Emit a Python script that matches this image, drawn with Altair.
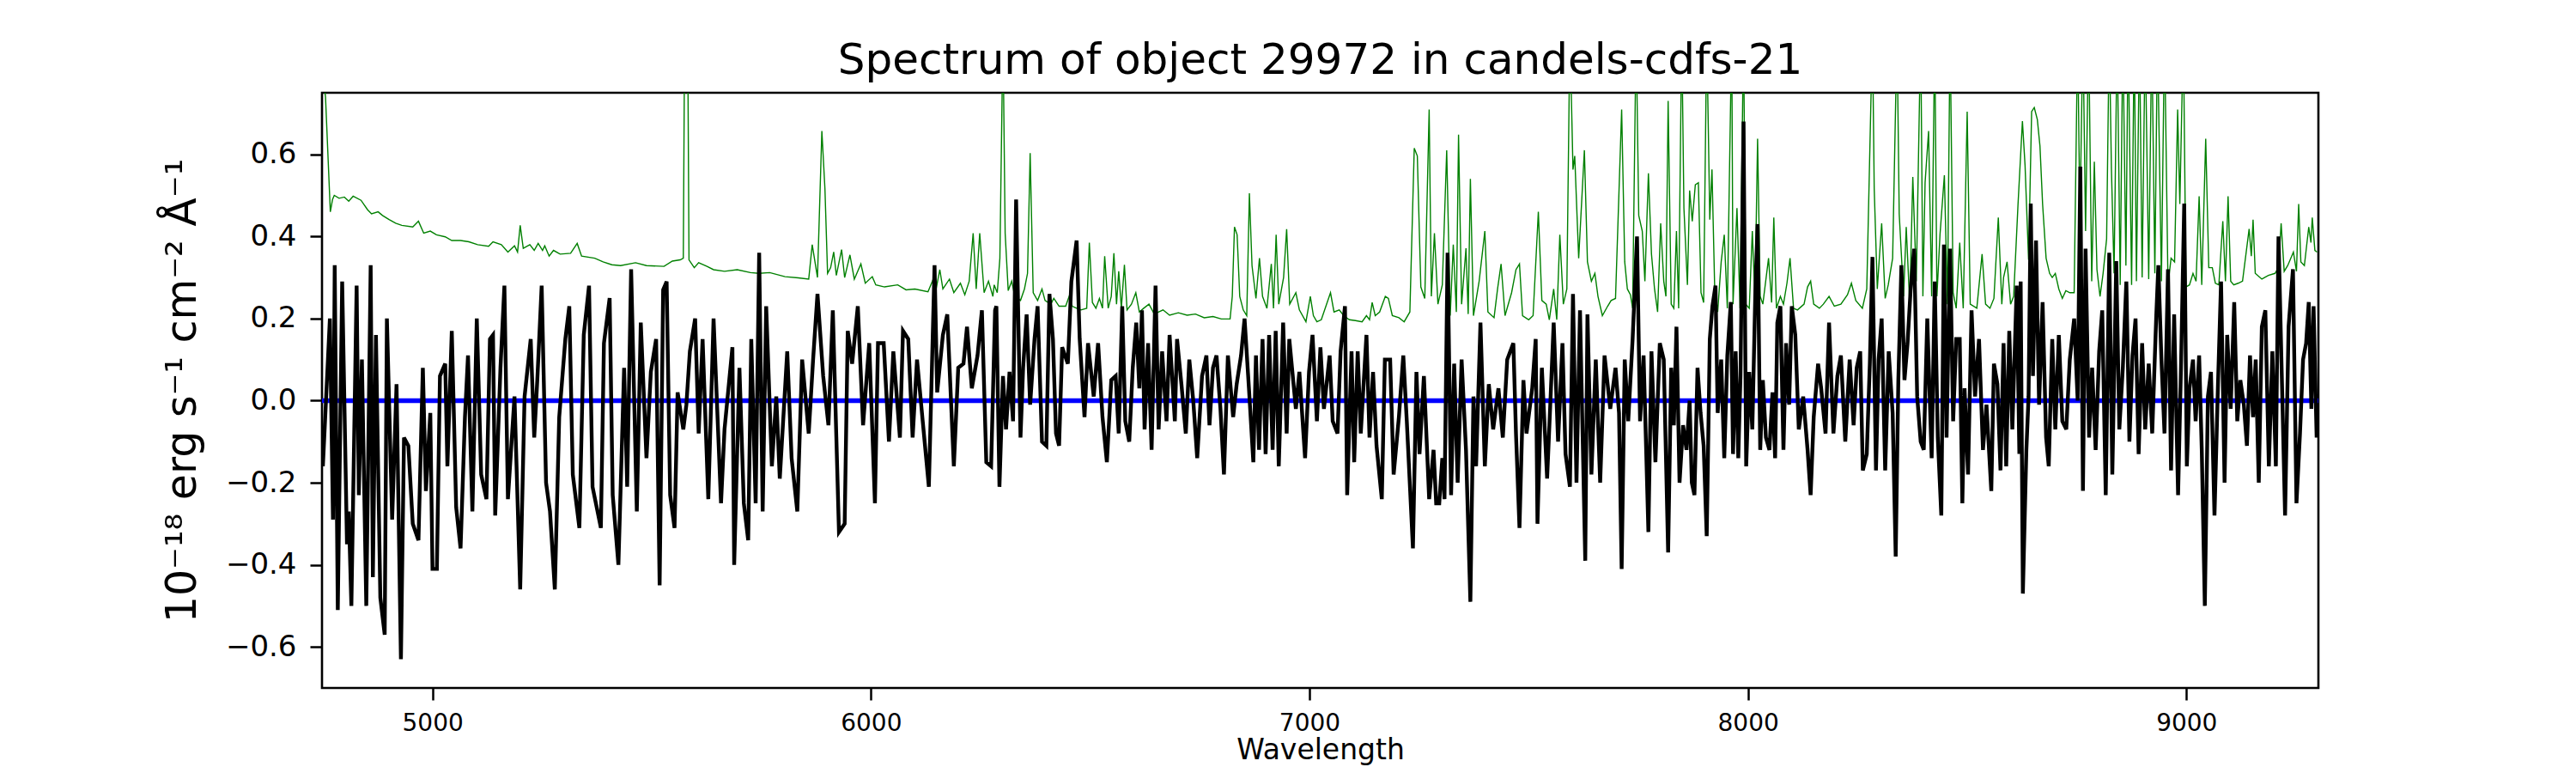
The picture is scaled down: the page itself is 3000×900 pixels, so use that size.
import altair as alt
import pandas as pd

TITLE = "Spectrum of object 29972 in candels-cdfs-21"
Y_LABEL = "10⁻¹⁸ erg s⁻¹ cm⁻² Å⁻¹"
X_LABEL = "Wavelength"
X_TICKS = [5000, 6000, 7000, 8000, 9000]
Y_TICKS = [-0.6, -0.4, -0.2, 0.0, 0.2, 0.4, 0.6]
X_DOMAIN = [4748, 9301]
Y_DOMAIN = [-0.70, 0.75]

# measured flux (black)
black_wave = [
    4750, 4766, 4773, 4777, 4784, 4794, 4805, 4809, 4815, 4827, 4832, 4839, 4849, 4859, 4864, 4871,
    4881, 4891, 4896, 4908, 4918, 4928, 4935, 4945, 4955, 4968, 4978, 4985, 4995, 5000, 5010, 5017,
    5029, 5034, 5044, 5054, 5064, 5074, 5081, 5091, 5101, 5111, 5123, 5131, 5138, 5143, 5155, 5164,
    5172, 5187, 5200, 5210, 5224, 5232, 5239, 5249, 5259, 5268, 5279, 5289, 5303, 5312, 5320, 5335,
    5345, 5357, 5365, 5384, 5391, 5404, 5411, 5424, 5437, 5444, 5453, 5466, 5475, 5488, 5498, 5510,
    5518, 5526, 5534, 5542, 5552, 5559, 5572, 5579, 5587, 5599, 5607, 5616, 5629, 5641, 5658, 5666,
    5684, 5688, 5700, 5710, 5720, 5727, 5737, 5745, 5753, 5761, 5774, 5784, 5792, 5809, 5819, 5832,
    5843, 5858, 5868, 5878, 5891, 5903, 5913, 5927, 5940, 5947, 5957, 5970, 5982, 5996, 6009, 6016,
    6029, 6041, 6051, 6066, 6073, 6085, 6095, 6105, 6118, 6132, 6145, 6151, 6164, 6174, 6189, 6199,
    6211, 6219, 6230, 6243, 6253, 6263, 6274, 6283,
    6286, 6293, 6301, 6308, 6316, 6324, 6331, 6341, 6347, 6355, 6363, 6373, 6380, 6390, 6400, 6407,
    6415, 6422, 6429, 6436, 6449, 6457, 6469, 6476, 6487, 6495, 6508, 6518, 6528, 6538, 6548, 6558,
    6565, 6573, 6580, 6589, 6597, 6605, 6612, 6618, 6624, 6632, 6640, 6649, 6656, 6664, 6674, 6681,
    6693, 6698, 6708, 6718, 6726, 6735, 6744, 6755, 6765, 6772, 6780, 6788, 6797, 6805, 6814, 6826,
    6834, 6844, 6852, 6862, 6872, 6878, 6885, 6893, 6900, 6908, 6916, 6923, 6930, 6940, 6948, 6954,
    6969, 6977, 6990, 6999, 7007, 7017, 7025, 7033, 7046, 7053, 7064, 7071, 7081, 7086, 7096, 7102,
    7110, 7117, 7130, 7137, 7145, 7153, 7165, 7172, 7184, 7192, 7204, 7214, 7222, 7236, 7244, 7251,
    7261, 7273, 7283, 7289, 7296, 7303, 7308, 7315, 7323, 7330, 7338, 7347, 7357, 7367, 7374, 7380,
    7390, 7400, 7409, 7419, 7431, 7441, 7451, 7465, 7471, 7479, 7488, 7495, 7508, 7516, 7520, 7530,
    7542, 7550, 7557, 7567, 7577, 7584, 7594, 7601, 7609, 7617, 7629, 7634, 7643, 7653, 7663, 7673,
    7686, 7698, 7706, 7712, 7719, 7727, 7737, 7747, 7754, 7762, 7773, 7780, 7789, 7799, 7808,
    7818, 7825, 7831, 7837, 7844, 7852, 7860, 7867, 7872, 7878, 7885, 7892, 7899, 7906, 7913, 7919,
    7926, 7931, 7939, 7946, 7953, 7961, 7966, 7972, 7978, 7983, 7990, 7996, 8003, 8010, 8017, 8022,
    8028, 8034, 8041, 8049, 8056, 8062, 8067, 8074, 8081, 8087, 8094, 8100, 8108, 8116, 8126, 8136,
    8143, 8150, 8160, 8167, 8177, 8185, 8195, 8204, 8212, 8222, 8232, 8241, 8248, 8256, 8262, 8271,
    8278, 8284, 8292, 8298, 8305, 8313, 8321, 8330, 8337, 8343, 8350, 8357, 8364, 8371, 8379, 8386,
    8394, 8401, 8409, 8419, 8426, 8433, 8441, 8447, 8453, 8461, 8468, 8475, 8483, 8489, 8494, 8502,
    8510, 8518, 8527, 8536, 8544, 8555, 8561, 8569, 8576, 8583, 8589, 8596, 8603, 8613, 8619, 8622,
    8627, 8635, 8640, 8645, 8650, 8657, 8664, 8672, 8680, 8686, 8694, 8701, 8709, 8717, 8726, 8734,
    8744, 8752, 8758, 8764, 8770, 8778, 8785, 8793, 8801, 8808, 8816, 8824, 8831, 8840, 8847, 8855,
    8863, 8870, 8877, 8884, 8891, 8899, 8906, 8914, 8922, 8931, 8936, 8943, 8950, 8958, 8965, 8972,
    8981, 8988, 8995, 9001, 9007, 9015, 9021, 9029, 9035, 9042, 9049, 9056, 9064, 9072, 9079, 9087,
    9093, 9101, 9109, 9116, 9123, 9131, 9138, 9145, 9152, 9158, 9165, 9172, 9180, 9188, 9196, 9204,
    9210, 9218, 9225, 9233, 9243, 9251, 9259, 9266, 9273, 9279, 9285, 9290, 9297,
]
black_flux = [
    -0.16, 0.20, -0.29, 0.33, -0.51, 0.29, -0.35, -0.27, -0.50, 0.28, -0.23, 0.10, -0.50, 0.33, -0.43, 0.16,
    -0.48, -0.57, 0.20, -0.29, 0.04, -0.63, -0.09, -0.11, -0.30, -0.34, 0.08, -0.22, -0.03, -0.41, -0.41, 0.06,
    0.09, -0.16, 0.17, -0.26, -0.36, -0.04, 0.11, -0.27, 0.20, -0.18, -0.24, 0.15, 0.16, -0.28, 0.08, 0.28,
    -0.24, 0.01, -0.46, 0.01, 0.15, -0.09, 0.05, 0.28, -0.20, -0.27, -0.46, -0.04, 0.15, 0.23, -0.18, -0.31,
    0.16, 0.28, -0.21, -0.31, 0.14, 0.25, -0.23, -0.40, 0.08, -0.21, 0.32, -0.27, 0.19, -0.14, 0.07, 0.15,
    -0.45, 0.27, 0.29, -0.23, -0.31, 0.02, -0.07, -0.01, 0.12, 0.20, -0.08, 0.15, -0.24, 0.20, -0.25, -0.07,
    0.13, -0.40, 0.08, -0.25, -0.34, 0.15, -0.25, 0.36, -0.27, 0.23, -0.16, 0.01, -0.19, 0.12, -0.14, -0.27,
    0.10, -0.08, 0.10, 0.26, 0.06, -0.06, 0.22, -0.32, -0.30, 0.17, 0.09, 0.23, -0.06, 0.14, -0.25, 0.14,
    0.14, -0.10, 0.12, -0.09, 0.17, 0.15, -0.09, 0.10, -0.05, -0.21, 0.33, 0.02, 0.16, 0.21, -0.16, 0.08,
    0.09, 0.18, 0.03, 0.11, 0.22, -0.15, -0.16, 0.22,
    0.23, -0.21, 0.06, -0.07, 0.07, -0.05, 0.49, -0.09, 0.08, 0.21, -0.01, 0.15, 0.23, -0.10, -0.11, 0.26,
    0.15, -0.08, -0.11, 0.13, 0.09, 0.29, 0.39, 0.15, -0.04, 0.14, 0.01, 0.14, -0.04, -0.15, 0.05, 0.06,
    -0.08, 0.23, -0.05, -0.10, 0.08, 0.19, 0.03, 0.22, -0.07, 0.14, -0.12, 0.28, -0.07, 0.12, -0.05, 0.16,
    -0.05, 0.15, 0.04, -0.08, 0.10, 0.00, -0.14, 0.06, 0.11, -0.06, 0.08, 0.11, -0.02, -0.18, 0.11, -0.04,
    0.04, 0.11, 0.20, 0.03, -0.15, 0.11, -0.12, 0.15, -0.13, 0.16, -0.12, 0.17, -0.16, 0.19, -0.08, 0.15,
    -0.02, 0.07, -0.14, 0.07, 0.16, -0.05, 0.13, -0.02, 0.11, -0.05, -0.08, 0.12, 0.23, -0.23, 0.12, -0.15,
    0.12, -0.08, 0.16, -0.09, 0.07, -0.11, -0.24, 0.10, 0.10, -0.18, -0.04, 0.11, -0.05, -0.36, 0.07, -0.13,
    0.06, -0.24, -0.12, -0.25, -0.25, -0.14, -0.24, 0.36, -0.23, 0.09, -0.20, 0.10, -0.12, -0.49, 0.01, -0.16,
    0.19, -0.16, 0.04, -0.07, 0.03, -0.09, 0.10, 0.14, -0.08, -0.31, 0.05, -0.08, 0.03, 0.15, -0.30, 0.08,
    -0.19, 0.01, 0.19, -0.10, 0.14, -0.13, -0.21, 0.26, -0.20, 0.22, -0.39, 0.21, -0.18, 0.10, -0.20, 0.11,
    -0.02, 0.08, -0.03, -0.41, 0.10, -0.05, 0.15, 0.40, -0.05, 0.11, -0.32, 0.12, -0.15, 0.14, 0.10,
    -0.37, 0.08, -0.06, 0.18, -0.20, -0.06, -0.12, 0.00, -0.20, -0.23, 0.08, -0.03, -0.11, -0.33, 0.15, 0.23,
    0.28, -0.03, 0.10, -0.14, 0.11, 0.24, -0.13, 0.12, -0.14, 0.06, 0.68, -0.16, 0.07, -0.07, 0.27, 0.43,
    -0.12, 0.05, -0.09, -0.12, 0.02, -0.14, 0.19, 0.23, -0.12, 0.14, -0.01, 0.23, 0.16, -0.07, 0.01, -0.12,
    -0.23, -0.04, 0.09, 0.03, -0.08, 0.19, -0.08, 0.06, 0.11, -0.10, 0.10, -0.06, 0.08, 0.12, -0.17, -0.13,
    0.09, 0.35, -0.17, 0.10, 0.20, -0.17, 0.12, -0.03, -0.38, 0.05, 0.33, 0.05, 0.14, 0.27, 0.37, 0.01,
    -0.10, -0.12, 0.20, -0.14, 0.29, -0.09, -0.28, 0.38, -0.09, 0.37, -0.05, 0.15, 0.15, -0.25, 0.03, -0.18,
    0.22, 0.01, 0.15, -0.12, -0.01, -0.22, 0.09, 0.04, -0.17, 0.14, -0.16, 0.17, -0.07, 0.28, -0.13, 0.29,
    -0.47, -0.12, 0.01, 0.48, 0.06, 0.39, -0.01, 0.24, -0.09, -0.16, 0.15, -0.07, 0.16, -0.05, -0.07, 0.10,
    0.20, 0.00, 0.57, -0.22, 0.37, -0.09, 0.08, -0.12, 0.12, 0.22, -0.23, 0.36, -0.18, 0.34, -0.07, 0.08,
    0.29, -0.10, 0.11, 0.20, -0.13, 0.14, -0.07, 0.09, -0.08, 0.20, 0.33, 0.10, -0.08, 0.32, -0.17, 0.21,
    -0.23, 0.10, 0.48, -0.16, 0.03, 0.10, -0.05, 0.11, -0.12, -0.50, 0.01, 0.07, -0.28, 0.04, 0.29, -0.20,
    0.16, -0.02, 0.24, -0.05, 0.05, -0.01, -0.11, 0.11, -0.04, 0.10, -0.20, 0.18, 0.22, -0.16, 0.12, -0.16,
    0.40, 0.04, -0.28, 0.18, 0.32, -0.25, -0.08, 0.10, 0.14, 0.24, -0.02, 0.23, -0.09,
]

# noise spectrum (green)
green_wave = [
    4749, 4756, 4767, 4772, 4776, 4787, 4799, 4809, 4819, 4837, 4852, 4861, 4876, 4886, 4901, 4916,
    4930, 4955, 4968, 4980, 4995, 5009, 5029, 5044, 5064, 5083, 5103, 5128, 5138, 5157, 5172, 5187,
    5194, 5200, 5207, 5222, 5232, 5241, 5251, 5256, 5266, 5276, 5291, 5315, 5330, 5340, 5370, 5389,
    5409, 5429, 5463, 5488, 5528, 5547, 5565, 5572, 5575, 5582, 5585, 5597, 5607, 5626, 5641, 5666,
    5695, 5725, 5745, 5769, 5804, 5834, 5858, 5866, 5878, 5888, 5895, 5901, 5908, 5915, 5921, 5933,
    5940, 5952, 5962, 5977, 5987, 6003, 6011, 6031, 6061, 6080, 6100, 6130, 6140, 6147, 6157, 6164,
    6179, 6189, 6204, 6214, 6224, 6233, 6240, 6248, 6258, 6268, 6278,
    6281, 6288, 6294, 6301, 6306, 6313, 6321, 6328, 6341, 6350, 6357, 6363, 6370, 6380, 6390, 6397,
    6410, 6417, 6429, 6444, 6452, 6459, 6469, 6479, 6492, 6498, 6505, 6513, 6521, 6528, 6533, 6541,
    6548, 6554, 6560, 6565, 6571, 6578, 6584, 6594, 6604, 6612, 6622, 6634, 6646, 6666, 6681, 6701,
    6721, 6740, 6760, 6780, 6799, 6819, 6824, 6829, 6835, 6841, 6849, 6857, 6863, 6869, 6878, 6886,
    6893, 6903, 6913, 6918, 6924, 6930, 6941, 6948, 6955, 6969, 6977, 6992, 7002, 7009, 7017, 7027,
    7048, 7056, 7068, 7078, 7091, 7105, 7120, 7130, 7137, 7143, 7150, 7160, 7173, 7180, 7189, 7204,
    7216, 7229, 7239, 7246, 7254, 7263, 7273, 7278, 7285, 7293, 7303, 7313, 7321, 7328, 7335, 7340,
    7347, 7357, 7362, 7367, 7374, 7387, 7400, 7407, 7421, 7429, 7437, 7446, 7461, 7471, 7479, 7486,
    7500, 7510, 7522, 7530, 7540, 7547, 7557, 7564, 7571, 7579, 7587, 7594, 7601, 7605, 7614, 7627,
    7634, 7643, 7651, 7658, 7668, 7680, 7688, 7698, 7712, 7719, 7725, 7732, 7737, 7745, 7751, 7759,
    7765, 7773, 7780, 7787, 7794, 7801, 7808,
    7813, 7818, 7825, 7831, 7837, 7842, 7849, 7854, 7862, 7867, 7873, 7880, 7887, 7893, 7899, 7906,
    7913, 7918, 7924, 7931, 7939, 7946, 7953, 7963, 7966, 7975, 7982, 7990, 7995, 8003, 8010, 8016,
    8022, 8028, 8034, 8047, 8054, 8059, 8065, 8074, 8081, 8089, 8096, 8104, 8113, 8128, 8136, 8143,
    8150, 8163, 8172, 8185, 8197, 8212, 8227, 8236, 8246, 8261, 8271, 8278, 8284, 8288, 8295, 8305,
    8313, 8320, 8330, 8340, 8345, 8355, 8361, 8369, 8376, 8384, 8394, 8399, 8404, 8412, 8419, 8426,
    8431, 8438, 8448, 8455, 8461, 8468, 8475, 8483, 8491, 8500, 8507, 8522, 8534, 8542, 8552, 8561,
    8571, 8579, 8583, 8591, 8599, 8606, 8616, 8626, 8632, 8640, 8647, 8653, 8660, 8666, 8672, 8680,
    8688, 8694, 8701, 8709, 8717, 8725, 8734, 8744, 8752, 8757, 8764, 8770, 8777, 8784, 8790, 8796,
    8803, 8810, 8818, 8824, 8829, 8835, 8842, 8849, 8855, 8862, 8867, 8875, 8881, 8886, 8893, 8899,
    8906, 8914, 8921, 8928, 8934, 8943, 8950, 8958, 8965, 8973, 8980, 8985, 8993, 8999, 9007, 9015,
    9022, 9029, 9035, 9044, 9051, 9059, 9066, 9074, 9083, 9089, 9095, 9101, 9108, 9118, 9128, 9143,
    9148, 9152, 9157, 9172, 9187, 9202, 9210, 9216, 9223, 9231, 9244, 9251, 9256, 9261, 9269, 9279,
    9284, 9287, 9293, 9298,
]
green_flux = [
    0.80, 0.74, 0.46, 0.49, 0.50, 0.493, 0.496, 0.486, 0.498, 0.488, 0.465, 0.455, 0.46, 0.451, 0.441, 0.432,
    0.427, 0.423, 0.437, 0.408, 0.413, 0.404, 0.399, 0.39, 0.39, 0.387, 0.38, 0.376, 0.387, 0.38, 0.362, 0.377,
    0.362, 0.427, 0.371, 0.38, 0.366, 0.383, 0.366, 0.377, 0.352, 0.366, 0.357, 0.359, 0.383, 0.352, 0.347, 0.338,
    0.331, 0.329, 0.336, 0.329, 0.327, 0.34, 0.343, 0.347, 0.90, 0.90, 0.343, 0.324, 0.336, 0.327, 0.319, 0.315,
    0.319, 0.312, 0.31, 0.312, 0.302, 0.299, 0.296, 0.38, 0.30, 0.657, 0.516, 0.31, 0.324, 0.362, 0.305, 0.368,
    0.30, 0.355, 0.296, 0.333, 0.286, 0.302, 0.282, 0.277, 0.282, 0.27, 0.272, 0.265, 0.291, 0.263, 0.319, 0.272,
    0.296, 0.263, 0.286, 0.258, 0.291, 0.408, 0.272, 0.408, 0.263, 0.291, 0.254,
    0.282, 0.263, 0.347, 0.90, 0.408, 0.268, 0.291, 0.254, 0.244, 0.272, 0.31, 0.603, 0.263, 0.244, 0.272, 0.244,
    0.235, 0.249, 0.23, 0.23, 0.254, 0.23, 0.225, 0.221, 0.225, 0.385, 0.239, 0.225, 0.249, 0.225, 0.352, 0.225,
    0.254, 0.359, 0.235, 0.315, 0.225, 0.331, 0.221, 0.235, 0.263, 0.216, 0.225, 0.235, 0.211, 0.221, 0.208, 0.214,
    0.208, 0.211, 0.202, 0.205, 0.199, 0.199, 0.254, 0.423, 0.404, 0.254, 0.221, 0.207, 0.505, 0.329, 0.249, 0.347,
    0.254, 0.225, 0.333, 0.225, 0.404, 0.235, 0.30, 0.418, 0.235, 0.263, 0.221, 0.192, 0.254, 0.207, 0.192, 0.197,
    0.263, 0.216, 0.221, 0.207, 0.197, 0.195, 0.192, 0.207, 0.197, 0.239, 0.207, 0.216, 0.254, 0.249, 0.207, 0.202,
    0.192, 0.216, 0.615, 0.596, 0.277, 0.249, 0.709, 0.254, 0.408, 0.235, 0.282, 0.61, 0.207, 0.38, 0.216, 0.648,
    0.235, 0.371, 0.211, 0.54, 0.207, 0.291, 0.413, 0.216, 0.202, 0.272, 0.333, 0.207, 0.263, 0.319, 0.333, 0.207,
    0.197, 0.207, 0.46, 0.244, 0.235, 0.197, 0.272, 0.197, 0.404, 0.235, 0.272, 0.90, 0.563, 0.596, 0.347, 0.61,
    0.338, 0.291, 0.31, 0.254, 0.207, 0.23, 0.244, 0.249, 0.709, 0.338, 0.272, 0.258, 0.225, 0.90, 0.451, 0.413,
    0.291, 0.554, 0.357, 0.272, 0.216, 0.432, 0.291,
    0.254, 0.73, 0.235, 0.225, 0.413, 0.225, 0.90, 0.469, 0.282, 0.512, 0.437, 0.526, 0.531, 0.263, 0.239, 0.90,
    0.441, 0.563, 0.282, 0.216, 0.338, 0.404, 0.225, 0.90, 0.235, 0.469, 0.225, 0.90, 0.235, 0.225, 0.413, 0.244,
    0.638, 0.254, 0.235, 0.347, 0.239, 0.446, 0.225, 0.254, 0.235, 0.286, 0.347, 0.225, 0.221, 0.235, 0.277, 0.291,
    0.235, 0.225, 0.235, 0.254, 0.23, 0.235, 0.258, 0.286, 0.244, 0.225, 0.272, 0.61, 0.90, 0.516, 0.272, 0.432,
    0.249, 0.282, 0.347, 0.90, 0.455, 0.254, 0.423, 0.235, 0.545, 0.291, 0.90, 0.254, 0.531, 0.657, 0.254, 0.90,
    0.254, 0.404, 0.549, 0.235, 0.90, 0.263, 0.225, 0.385, 0.225, 0.704, 0.235, 0.225, 0.357, 0.235, 0.225, 0.249,
    0.446, 0.235, 0.30, 0.338, 0.235, 0.254, 0.479, 0.681, 0.573, 0.343, 0.704, 0.714, 0.685, 0.62, 0.479, 0.347,
    0.31, 0.30, 0.31, 0.272, 0.249, 0.268, 0.263, 0.263, 0.90, 0.432, 0.90, 0.413, 0.90, 0.291, 0.582, 0.319,
    0.254, 0.31, 0.394, 0.90, 0.563, 0.31, 0.90, 0.282, 0.90, 0.329, 0.90, 0.282, 0.90, 0.291, 0.90, 0.30,
    0.90, 0.296, 0.90, 0.31, 0.90, 0.291, 0.90, 0.282, 0.347, 0.338, 0.709, 0.479, 0.90, 0.277, 0.282, 0.31,
    0.291, 0.498, 0.282, 0.638, 0.324, 0.324, 0.286, 0.282, 0.437, 0.291, 0.498, 0.291, 0.282, 0.286, 0.291, 0.418,
    0.352, 0.441, 0.31, 0.296, 0.305, 0.31, 0.324, 0.432, 0.315, 0.329, 0.362, 0.315, 0.479, 0.338, 0.329, 0.423,
    0.385, 0.446, 0.366, 0.362,
]

# zero reference (blue)
zero_wave = [4748, 9301]
zero_flux = [0.0, 0.0]

df_black = pd.DataFrame({"wave": black_wave, "flux": black_flux})
df_green = pd.DataFrame({"wave": green_wave, "flux": green_flux})
df_zero = pd.DataFrame({"wave": zero_wave, "flux": zero_flux})

FONT = "DejaVu Sans"

x_enc = alt.X(
    "wave:Q",
    scale=alt.Scale(domain=X_DOMAIN, nice=False, zero=False),
    axis=alt.Axis(
        values=X_TICKS, format="d", title=X_LABEL, grid=False, domain=False,
        labelFont=FONT, labelFontSize=28, labelColor="black", labelPadding=13,
        tickSize=14, tickWidth=2.5, tickColor="black",
        titleFont=FONT, titleFontSize=33, titleFontWeight="normal", titleColor="black",
        titleX=1162.5, titleY=82, titleAlign="center", titleBaseline="alphabetic",
    ),
)
y_enc = alt.Y(
    "flux:Q",
    scale=alt.Scale(domain=Y_DOMAIN, nice=False, zero=False),
    axis=alt.Axis(
        values=Y_TICKS, format=".1f", title=Y_LABEL, grid=False, domain=False,
        labelFont=FONT, labelFontSize=34, labelColor="black", labelPadding=16,
        tickSize=14, tickWidth=2.5, tickColor="black",
        titleFont=FONT, titleFontSize=49, titleFontWeight="normal", titleColor="black",
        titleX=-148, titleY=346.5, titleAngle=270, titleAlign="center", titleBaseline="alphabetic",
    ),
)

zero_line = alt.Chart(df_zero).mark_line(color="#0000ff", strokeWidth=5.5, clip=True).encode(x=x_enc, y=y_enc)
green_line = alt.Chart(df_green).mark_line(color="#008000", strokeWidth=1.4, clip=True).encode(x=x_enc, y=y_enc)
black_line = alt.Chart(df_black).mark_line(color="#000000", strokeWidth=4.4, clip=True, strokeJoin="miter").encode(x=x_enc, y=y_enc)

chart = alt.layer(zero_line, green_line, black_line).properties(
    width=2325,
    height=693,
    title=alt.TitleParams(
        text=TITLE, font=FONT, fontSize=50, fontWeight="normal", color="black",
        anchor="middle", frame="group", baseline="bottom", offset=-38,
    ),
    autosize=alt.AutoSizeParams(type="none"),
    padding={"left": 367, "top": 100, "right": 292, "bottom": 91},
    background="white",
).configure_view(stroke="black", strokeWidth=2.6)

chart.save("out.html", embed_options={"renderer": "svg", "actions": False})
